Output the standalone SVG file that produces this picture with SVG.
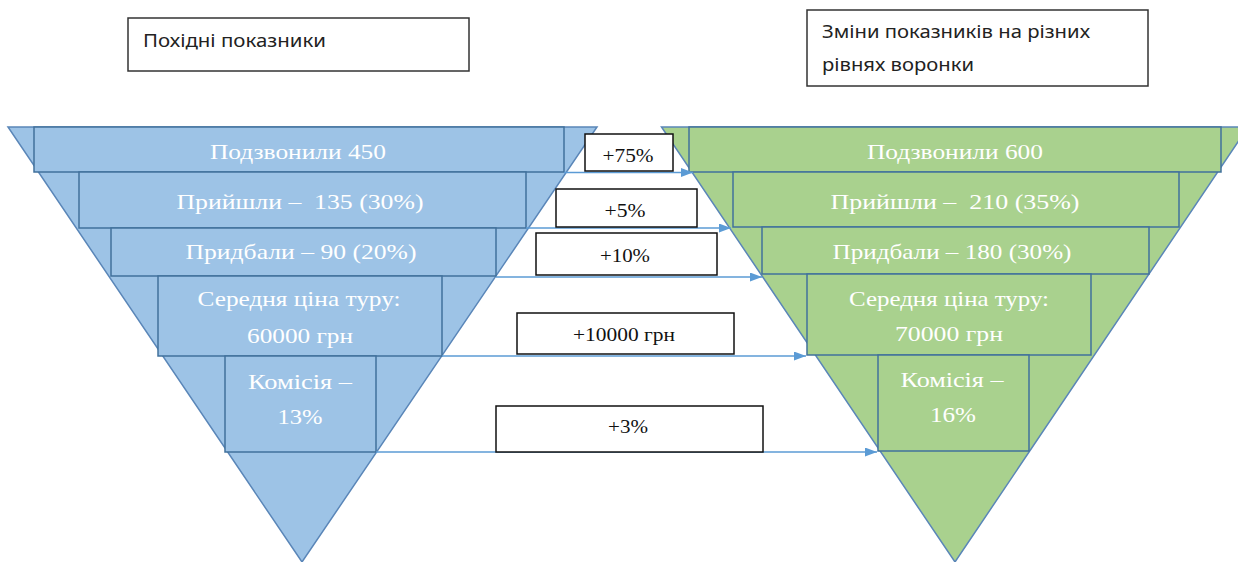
<svg xmlns="http://www.w3.org/2000/svg" width="1238" height="562" viewBox="0 0 1238 562">
<style>
.tbox{fill:#fff;stroke:#333;stroke-width:1.5}
.ttxt{font-family:"Noto Sans","Liberation Sans",sans-serif;font-size:18px;fill:#222}
.triL{fill:#9DC3E6;stroke:#5A86B8;stroke-width:1.5}
.triR{fill:#A9D18E;stroke:#5A86B8;stroke-width:1.5}
.bL{fill:#9DC3E6;stroke:#41719C;stroke-width:1.5}
.bR{fill:#A9D18E;stroke:#41719C;stroke-width:1.5}
.ft{font-family:"Liberation Serif","Times New Roman",serif;font-size:22px;fill:#fff;text-anchor:middle;white-space:pre}
.lb{fill:#fff;stroke:#111;stroke-width:1.5}
.lt{font-family:"Liberation Serif","Times New Roman",serif;font-size:18px;fill:#111;text-anchor:middle}
.cn{stroke:#5B9BD5;stroke-width:1.5;fill:none}
</style>
<defs>
<marker id="ah" markerUnits="userSpaceOnUse" markerWidth="13" markerHeight="10" refX="12" refY="4.5" orient="auto">
<path d="M0,0 L12,4.5 L0,9 z" fill="#5B9BD5"/>
</marker>
</defs>

<g id="title-left">
<rect class="tbox" x="128" y="18" width="341" height="53"/>
<text class="ttxt" x="143" y="47" textLength="183" lengthAdjust="spacingAndGlyphs">Похідні показники</text>
</g>
<g id="title-right">
<rect class="tbox" x="807" y="10" width="341" height="76"/>
<text class="ttxt" x="822" y="38" textLength="268" lengthAdjust="spacingAndGlyphs">Зміни показників на різних</text>
<text class="ttxt" x="822" y="71" textLength="152" lengthAdjust="spacingAndGlyphs">рівнях воронки</text>
</g>

<g id="funnel-left">
<polygon class="triL" points="8,127 597,127 302,562"/>
<g id="L1"><rect class="bL" x="34" y="127" width="530" height="45"/>
<text class="ft" x="298" y="159" textLength="176" lengthAdjust="spacingAndGlyphs">Подзвонили 450</text></g>
<g id="L2"><rect class="bL" x="79" y="172" width="447" height="56"/>
<text class="ft" x="300" y="209" textLength="247" lengthAdjust="spacingAndGlyphs" xml:space="preserve">Прийшли –  135 (30%)</text></g>
<g id="L3"><rect class="bL" x="111" y="228" width="385" height="48"/>
<text class="ft" x="301" y="259" textLength="231" lengthAdjust="spacingAndGlyphs">Придбали – 90 (20%)</text></g>
<g id="L4"><rect class="bL" x="158" y="276" width="284" height="80"/>
<text class="ft" x="299" y="306" textLength="203" lengthAdjust="spacingAndGlyphs">Середня ціна туру:</text>
<text class="ft" x="300" y="343" textLength="106" lengthAdjust="spacingAndGlyphs">60000 грн</text></g>
<g id="L5"><rect class="bL" x="225" y="356" width="151" height="96"/>
<text class="ft" x="300" y="389" textLength="104" lengthAdjust="spacingAndGlyphs">Комісія –</text>
<text class="ft" x="300" y="424" textLength="45" lengthAdjust="spacingAndGlyphs">13%</text></g>
</g>

<g id="funnel-right">
<polygon class="triR" points="661.5,127 1248,127 955,562"/>
<g id="R1"><rect class="bR" x="689" y="127" width="532" height="45"/>
<text class="ft" x="955" y="159" textLength="176" lengthAdjust="spacingAndGlyphs">Подзвонили 600</text></g>
<g id="R2"><rect class="bR" x="733" y="172" width="446" height="55"/>
<text class="ft" x="955" y="209" textLength="249" lengthAdjust="spacingAndGlyphs" xml:space="preserve">Прийшли –  210 (35%)</text></g>
<g id="R3"><rect class="bR" x="762" y="227" width="387" height="47"/>
<text class="ft" x="952" y="259" textLength="239" lengthAdjust="spacingAndGlyphs">Придбали – 180 (30%)</text></g>
<g id="R4"><rect class="bR" x="807" y="274" width="284" height="81"/>
<text class="ft" x="949" y="306" textLength="200" lengthAdjust="spacingAndGlyphs">Середня ціна туру:</text>
<text class="ft" x="949" y="341" textLength="108" lengthAdjust="spacingAndGlyphs">70000 грн</text></g>
<g id="R5"><rect class="bR" x="878" y="355" width="151" height="96"/>
<text class="ft" x="952" y="387" textLength="103" lengthAdjust="spacingAndGlyphs">Комісія –</text>
<text class="ft" x="953" y="422" textLength="46" lengthAdjust="spacingAndGlyphs">16%</text></g>
</g>

<g id="connectors">
<line class="cn" x1="564" y1="172.5" x2="693" y2="172.5" marker-end="url(#ah)"/>
<line class="cn" x1="526" y1="228" x2="731" y2="228" marker-end="url(#ah)"/>
<line class="cn" x1="496" y1="277" x2="762" y2="277" marker-end="url(#ah)"/>
<line class="cn" x1="442" y1="356" x2="806" y2="356" marker-end="url(#ah)"/>
<line class="cn" x1="376" y1="452" x2="877" y2="452" marker-end="url(#ah)"/>
</g>

<g id="label-75"><rect class="lb" x="585" y="134" width="88" height="37"/>
<text class="lt" x="628" y="162" textLength="51" lengthAdjust="spacingAndGlyphs">+75%</text></g>
<g id="label-5"><rect class="lb" x="556" y="189" width="141" height="38"/>
<text class="lt" x="625" y="217" textLength="41" lengthAdjust="spacingAndGlyphs">+5%</text></g>
<g id="label-10"><rect class="lb" x="536" y="233" width="181" height="42"/>
<text class="lt" x="625" y="262" textLength="50" lengthAdjust="spacingAndGlyphs">+10%</text></g>
<g id="label-10000"><rect class="lb" x="517" y="313" width="217" height="41"/>
<text class="lt" x="624" y="341" textLength="102" lengthAdjust="spacingAndGlyphs">+10000 грн</text></g>
<g id="label-3"><rect class="lb" x="496" y="406" width="267" height="46"/>
<text class="lt" x="628" y="433" textLength="40" lengthAdjust="spacingAndGlyphs">+3%</text></g>
</svg>
